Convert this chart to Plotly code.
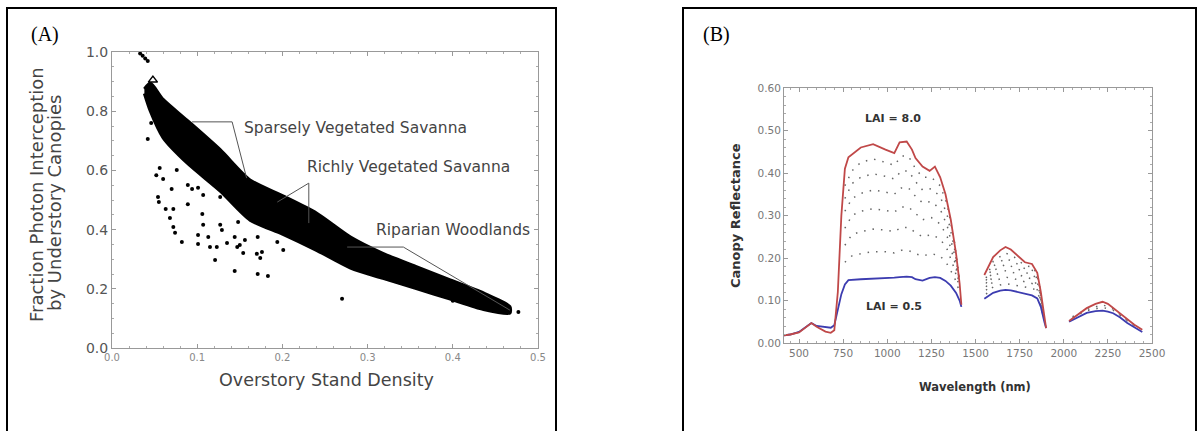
import plotly.graph_objects as go

# ---------------- Panel A data ----------------
band_x = [0.038, 0.045, 0.06, 0.088, 0.127, 0.162, 0.20, 0.24, 0.28, 0.318, 0.358, 0.397, 0.436, 0.467]
band_upper = [0.875, 0.895, 0.84, 0.77, 0.67, 0.568, 0.515, 0.456, 0.375, 0.32, 0.274, 0.23, 0.186, 0.14]
band_lower = [0.86, 0.80, 0.71, 0.625, 0.53, 0.432, 0.385, 0.33, 0.27, 0.235, 0.20, 0.165, 0.13, 0.118]

scatter_x = [0.046, 0.042, 0.056, 0.052, 0.060, 0.076, 0.070, 0.054, 0.055, 0.063, 0.072, 0.068,
             0.072, 0.074, 0.082, 0.089, 0.094, 0.101, 0.089, 0.107, 0.106, 0.107, 0.101, 0.101,
             0.113, 0.115, 0.127, 0.129, 0.123, 0.121, 0.135, 0.144, 0.147, 0.150, 0.156, 0.154,
             0.144, 0.170, 0.176, 0.174, 0.171, 0.183, 0.171, 0.194, 0.201, 0.127, 0.148, 0.270,
             0.400, 0.420, 0.440, 0.455, 0.477]
scatter_y = [0.760, 0.706, 0.608, 0.584, 0.571, 0.601, 0.537, 0.510, 0.493, 0.470, 0.470, 0.439,
             0.409, 0.389, 0.358, 0.551, 0.537, 0.541, 0.486, 0.517, 0.453, 0.416, 0.382, 0.351,
             0.375, 0.341, 0.416, 0.399, 0.341, 0.297, 0.355, 0.375, 0.341, 0.348, 0.365, 0.321,
             0.260, 0.318, 0.324, 0.304, 0.250, 0.243, 0.375, 0.358, 0.331, 0.510, 0.426, 0.166,
             0.160, 0.150, 0.140, 0.125, 0.122]
top_x = [0.030, 0.033, 0.036, 0.039, 0.042]
top_y = [1.005, 0.995, 0.987, 0.978, 0.970]
tri_x = [0.048]
tri_y = [0.905]

sparse_x = [0.094, 0.141, 0.158]
sparse_y = [0.764, 0.764, 0.574]
rich_x = [0.194, 0.231, 0.231]
rich_y = [0.493, 0.557, 0.422]
ripar_x = [0.276, 0.342, 0.467]
ripar_y = [0.341, 0.341, 0.128]

labels_a = ["Sparsely Vegetated Savanna", "Richly Vegetated Savanna", "Riparian Woodlands"]
labels_a_x = [0.152, 0.227, 0.3075]
labels_a_y = [0.743, 0.611, 0.399]

# ---------------- Panel B data ----------------
s1_wl = [415, 450, 500, 550, 570, 600, 650, 680, 700, 720, 740, 760, 780, 850, 920, 990, 1040,
         1070, 1110, 1140, 1160, 1200, 1240, 1270, 1300, 1330, 1360, 1390, 1410, 1420]
red_s1 = [0.018, 0.02, 0.025, 0.042, 0.047, 0.038, 0.027, 0.024, 0.03, 0.12, 0.30, 0.41, 0.437, 0.46,
          0.468, 0.455, 0.447, 0.472, 0.474, 0.455, 0.435, 0.415, 0.405, 0.415, 0.39, 0.35, 0.29,
          0.21, 0.14, 0.09]
blue_s1 = [0.018, 0.02, 0.026, 0.042, 0.047, 0.04, 0.037, 0.036, 0.042, 0.078, 0.115, 0.138, 0.148,
           0.15, 0.151, 0.153, 0.154, 0.155, 0.156, 0.155, 0.15, 0.147, 0.153, 0.155, 0.153, 0.146,
           0.135, 0.118, 0.10, 0.085]
s2_wl = [1550, 1600, 1640, 1670, 1700, 1720, 1750, 1780, 1820, 1850, 1870, 1890, 1900]
red_s2 = [0.16, 0.202, 0.218, 0.226, 0.22, 0.212, 0.20, 0.19, 0.186, 0.165, 0.12, 0.06, 0.035]
blue_s2 = [0.104, 0.118, 0.123, 0.125, 0.124, 0.122, 0.119, 0.116, 0.112, 0.105, 0.085, 0.05, 0.035]
s3_wl = [2030, 2080, 2130, 2180, 2220, 2250, 2280, 2320, 2360, 2400, 2445]
red_s3 = [0.052, 0.066, 0.082, 0.092, 0.097, 0.092, 0.082, 0.069, 0.055, 0.043, 0.031]
blue_s3 = [0.05, 0.06, 0.071, 0.075, 0.076, 0.074, 0.07, 0.06, 0.047, 0.037, 0.026]

d_wl1 = [760, 800, 850, 920, 990, 1040, 1080, 1120, 1160, 1200, 1250, 1300, 1340, 1380, 1410]
d1_s1 = [0.19, 0.205, 0.21, 0.215, 0.215, 0.212, 0.218, 0.218, 0.21, 0.205, 0.21, 0.205, 0.185, 0.155, 0.12]
d2_s1 = [0.23, 0.255, 0.262, 0.268, 0.266, 0.262, 0.272, 0.272, 0.26, 0.25, 0.255, 0.245, 0.22, 0.175, 0.13]
d3_s1 = [0.27, 0.30, 0.31, 0.316, 0.312, 0.308, 0.32, 0.32, 0.305, 0.29, 0.295, 0.28, 0.25, 0.195, 0.135]
d4_s1 = [0.31, 0.34, 0.352, 0.36, 0.355, 0.35, 0.365, 0.365, 0.345, 0.33, 0.333, 0.315, 0.275, 0.21, 0.14]
d5_s1 = [0.34, 0.375, 0.39, 0.398, 0.392, 0.386, 0.405, 0.405, 0.38, 0.36, 0.363, 0.345, 0.30, 0.225, 0.145]
d6_s1 = [0.37, 0.405, 0.425, 0.433, 0.425, 0.418, 0.44, 0.44, 0.41, 0.39, 0.39, 0.37, 0.325, 0.24, 0.15]
d_wl2 = [1560, 1600, 1670, 1720, 1780, 1830, 1860, 1885]
d1_s2 = [0.115, 0.132, 0.14, 0.137, 0.132, 0.127, 0.11, 0.06]
d2_s2 = [0.124, 0.145, 0.155, 0.151, 0.144, 0.139, 0.118, 0.062]
d3_s2 = [0.132, 0.158, 0.17, 0.165, 0.155, 0.15, 0.125, 0.064]
d4_s2 = [0.14, 0.17, 0.185, 0.178, 0.166, 0.16, 0.132, 0.066]
d5_s2 = [0.147, 0.181, 0.199, 0.19, 0.175, 0.17, 0.138, 0.068]
d6_s2 = [0.153, 0.192, 0.212, 0.202, 0.182, 0.178, 0.143, 0.07]
d_wl3 = [2050, 2130, 2220, 2280, 2360, 2430]
da_s3 = [0.06, 0.076, 0.084, 0.077, 0.052, 0.033]
db_s3 = [0.062, 0.079, 0.09, 0.08, 0.054, 0.034]

W, H = 1201, 431
SANS = "DejaVu Sans"
fig = go.Figure()

# ---- Panel A traces ----
fig.add_trace(go.Scatter(x=band_x + band_x[::-1], y=band_upper + band_lower[::-1], fill="toself",
                         fillcolor="black", mode="lines",
                         line=dict(color="black", width=3, shape="spline", smoothing=0.7),
                         xaxis="x", yaxis="y", hoverinfo="skip", showlegend=False))
fig.add_trace(go.Scatter(x=scatter_x, y=scatter_y, mode="markers",
                         marker=dict(color="black", size=4), xaxis="x", yaxis="y", showlegend=False))
fig.add_trace(go.Scatter(x=top_x, y=top_y, mode="markers", cliponaxis=False,
                         marker=dict(color="black", size=4), xaxis="x", yaxis="y", showlegend=False))
fig.add_trace(go.Scatter(x=tri_x, y=tri_y, mode="markers",
                         marker=dict(color="white", size=8, symbol="triangle-up",
                                     line=dict(color="black", width=1.5)),
                         xaxis="x", yaxis="y", showlegend=False))
for lx, ly in [(sparse_x, sparse_y), (rich_x, rich_y), (ripar_x, ripar_y)]:
    fig.add_trace(go.Scatter(x=lx, y=ly, mode="lines", line=dict(color="#555", width=1),
                             xaxis="x", yaxis="y", showlegend=False))
for t, tx, ty in zip(labels_a, labels_a_x, labels_a_y):
    fig.add_annotation(x=tx, y=ty, xref="x", yref="y", text=t, showarrow=False, xanchor="left",
                       yanchor="middle", font=dict(family=SANS, size=15.5, color="#444"))

# ---- Panel B traces ----
dot_line = dict(color="#666", width=1.5, dash="1.5px,7px")
for wl, ys in [(d_wl1, d1_s1), (d_wl1, d2_s1), (d_wl1, d3_s1), (d_wl1, d4_s1), (d_wl1, d5_s1),
               (d_wl1, d6_s1), (d_wl2, d1_s2), (d_wl2, d2_s2), (d_wl2, d3_s2), (d_wl2, d4_s2),
               (d_wl2, d5_s2), (d_wl2, d6_s2), (d_wl3, da_s3), (d_wl3, db_s3)]:
    fig.add_trace(go.Scatter(x=wl, y=ys, mode="lines", line=dot_line, xaxis="x2", yaxis="y2",
                             showlegend=False))
for wl, ys in [(s1_wl, blue_s1), (s2_wl, blue_s2), (s3_wl, blue_s3)]:
    fig.add_trace(go.Scatter(x=wl, y=ys, mode="lines", line=dict(color="#3c3cb0", width=1.8),
                             xaxis="x2", yaxis="y2", showlegend=False))
for wl, ys in [(s1_wl, red_s1), (s2_wl, red_s2), (s3_wl, red_s3)]:
    fig.add_trace(go.Scatter(x=wl, y=ys, mode="lines", line=dict(color="#c04848", width=1.8),
                             xaxis="x2", yaxis="y2", showlegend=False))
fig.add_annotation(x=1030, y=0.529, xref="x2", yref="y2", text="<b>LAI = 8.0</b>", showarrow=False,
                   font=dict(family=SANS, size=11, color="#333"))
fig.add_annotation(x=1040, y=0.085, xref="x2", yref="y2", text="<b>LAI = 0.5</b>", showarrow=False,
                   font=dict(family=SANS, size=11, color="#333"))

# ---- frame boxes and panel letters ----
for x0, x1 in [(7, 556), (683, 1196)]:
    fig.add_shape(type="rect", xref="paper", yref="paper", x0=x0 / W, x1=x1 / W, y0=-0.05,
                  y1=1 - 8 / H, line=dict(color="black", width=2), fillcolor="rgba(0,0,0,0)")


def paper_text(px, py, text, size, color, family=SANS, angle=0):
    fig.add_annotation(x=px / W, y=1 - py / H, xref="paper", yref="paper", text=text,
                       textangle=angle, showarrow=False, xanchor="center", yanchor="middle",
                       font=dict(family=family, size=size, color=color))


paper_text(45, 35, "(A)", 20, "black", family="Liberation Serif")
paper_text(716, 35, "(B)", 20, "black", family="Liberation Serif")
paper_text(36, 195, "Fraction Photon Interception", 18, "#444", angle=-90)
paper_text(55, 203, "by Understory Canopies", 18, "#444", angle=-90)
paper_text(326, 380, "Overstory Stand Density", 17.5, "#444")
paper_text(735, 216, "<b>Canopy Reflectance</b>", 13, "#333", angle=-90)
paper_text(975, 387, "<b>Wavelength (nm)</b>", 11.5, "#333")

axis_common = dict(showline=True, linecolor="#999", linewidth=1, mirror="ticks", ticks="inside",
                   tickcolor="#999", ticklen=4, showgrid=False, zeroline=False, automargin=False)
fig.update_layout(
    width=W, height=H, margin=dict(l=0, r=0, t=0, b=0, pad=0, autoexpand=False),
    paper_bgcolor="white", plot_bgcolor="white", showlegend=False,
    xaxis=dict(domain=[112 / W, 538 / W], range=[0, 0.5], tickvals=[0, 0.1, 0.2, 0.3, 0.4, 0.5],
               ticktext=["0.0", "0.1", "0.2", "0.3", "0.4", "0.5"],
               tickfont=dict(family=SANS, size=10, color="#888"),
               minor=dict(dtick=0.02, ticks="inside", ticklen=2, tickcolor="#aaa"),
               anchor="y", **axis_common),
    yaxis=dict(domain=[1 - 348 / H, 1 - 52 / H], range=[0, 1.0], tickvals=[0, 0.2, 0.4, 0.6, 0.8, 1.0],
               ticktext=["0.0", "0.2", "0.4", "0.6", "0.8", "1.0"],
               tickfont=dict(family=SANS, size=14, color="#555"),
               minor=dict(dtick=0.05, ticks="inside", ticklen=2, tickcolor="#aaa"),
               anchor="x", **axis_common),
    xaxis2=dict(domain=[784 / W, 1152 / W], range=[415, 2500],
                tickvals=[500, 750, 1000, 1250, 1500, 1750, 2000, 2250, 2500],
                tickfont=dict(family=SANS, size=10.5, color="#777"),
                minor=dict(dtick=50, ticks="inside", ticklen=2, tickcolor="#aaa"),
                anchor="y2", **axis_common),
    yaxis2=dict(domain=[1 - 343 / H, 1 - 88 / H], range=[0, 0.6],
                tickvals=[0, 0.1, 0.2, 0.3, 0.4, 0.5, 0.6],
                ticktext=["0.00", "0.10", "0.20", "0.30", "0.40", "0.50", "0.60"],
                tickfont=dict(family=SANS, size=10.5, color="#777"),
                minor=dict(dtick=0.02, ticks="inside", ticklen=2, tickcolor="#aaa"),
                anchor="x2", **axis_common),
)
fig.write_html("out.html", config={"displayModeBar": False},
               post_script="document.body.style.margin='0';document.body.style.overflow='hidden';")
